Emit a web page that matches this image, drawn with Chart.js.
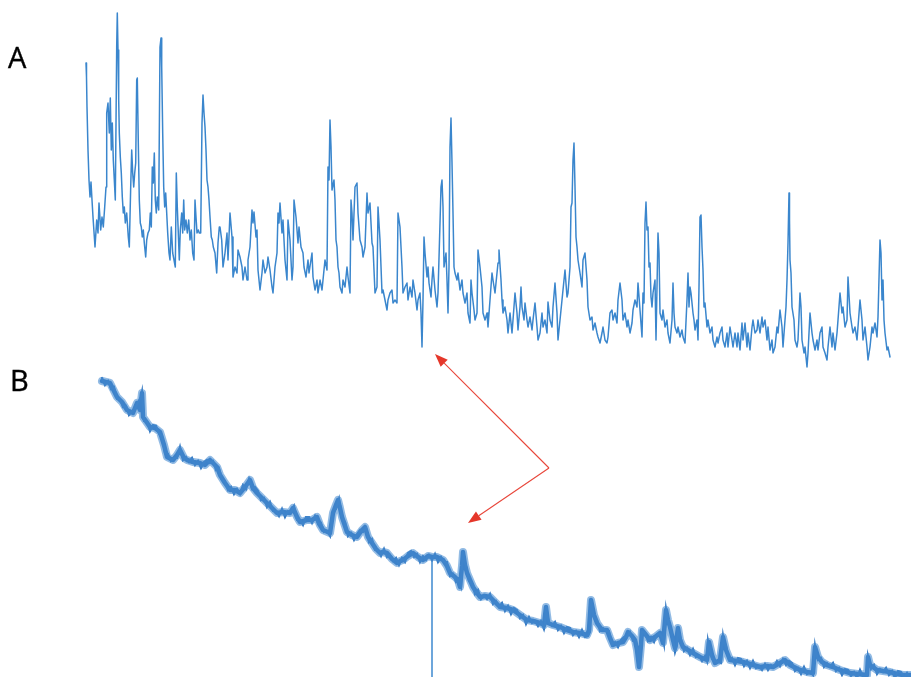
<!DOCTYPE html>
<html>
<head>
<meta charset="utf-8">
<script src="https://cdn.jsdelivr.net/npm/chart.js@4"></script>
<style>
  html, body { margin: 0; padding: 0; background: #fff; }
  #wrap { position: relative; width: 911px; height: 677px; overflow: hidden; }
  #wrap canvas { position: absolute; left: 0; top: 0; }
  .tag { position: absolute; font-family: "Open Sans", "Liberation Sans", Arial, sans-serif; font-size: 29px; line-height: 29px; color: #000; -webkit-text-stroke: 0.4px #000; }
</style>
</head>
<body>
<div id="wrap">
  <canvas id="chart" width="911" height="677"></canvas>
  <div class="tag" style="left:8px; top:42px;">A</div>
  <div class="tag" style="left:10px; top:365px;">B</div>
</div>
<script>
// Trace A: [time, level] samples (level axis runs downward)
const traceA = [
  [86,63],[86.5,77],[87,107],[88,150],[89,180],[90,197],[91,182],[92,200],[93,217],[95,247],[96.7,220],[98,233],[99,203],[100.7,230],[102,217],[103.3,227],[104.7,207],[106,187],[106.7,113],[108,103],[109.3,133],[110.3,98],[111.3,150],[112.3,123],[113.3,160],[114.3,180],[115.3,200],[116.7,47],[117.3,13],[118,50],[118.7,100],[119.3,133],[120.3,157],[121.3,173],[122.3,197],[123.3,213],[124.3,207],[125.3,223],[126.7,213],[128.3,237],[129.3,247],[130.7,187],[131.7,150],[132.7,173],[133.7,187],[134.7,173],[135.7,163],[136.7,80],[137.3,78],[138.3,143],[139.3,200],[140.3,223],[141.3,227],[142.3,237],[143.3,230],[144.3,243],[145.7,257],[146.7,240],[148,233],[149.3,230],[150.3,213],[151.3,227],[152.3,167],[153.3,183],[154.3,153],[155.3,200],[156.3,213],[157.3,197],[158.7,210],[160,47],[161,38],[161.7,67],[162.7,133],[163.7,187],[164.7,207],[165.7,193],[166.7,213],[167.7,233],[169,253],[170,260],[171.3,227],[172.7,253],[174,260],[175.3,267],[176.3,173],[177.3,207],[178.3,233],[179.3,260],[180.3,230],[181.7,213],[182.7,233],[183.7,200],[184.7,230],[186,220],[187.3,233],[188.7,220],[190,240],[191.3,230],[192.7,253],[194,260],[195,200],[196,217],[197,233],[198.3,230],[199.3,233],[200.7,233],[202,123],[203,95],[204,113],[205,127],[206,150],[207,180],[208,187],[209,200],[210,217],[211.3,237],[212.3,240],[213.3,247],[215,253],[216.7,273],[218,243],[219.3,227],
  [220,227],[221.7,240],[223,267],[225,253],[227,233],[228,260],[230,213],[232,237],[233,277],[235,267],[237,273],[238,250],[240,257],[242,267],[243,280],[245,267],[247,280],[248,260],[250,247],[252,210],[253,223],[254,212],[256,237],[257,230],[258,270],[260,290],[262,273],[263,260],[265,273],[267,267],[268,257],[270,270],[272,287],[273,293],[275,267],[277,253],[278,213],[279,223],[280,203],[282,233],[283,220],[285,260],[287,280],[288,220],[290,240],[292,280],[293,267],[294,200],[296,217],[298,243],[299,227],[301,247],[303,253],[304,267],[306,277],[308,260],[309,273],[312,253],[313,277],[315,290],[317,280],[318,293],[320,280],[322,290],[323,280],[325,260],[327,270],[328,167],[329,180],[330,120],[331,147],[332,190],[334,180],[335,200],[336,240],[337,247],[338,267],[339,273],[340,287],[342,293],[343,280],[345,287],[347,267],[348,277],[350,293],[351,200],
  [352,213],[353,240],[355,187],[357,183],[358,213],[360,240],[362,247],[363,257],[365,247],[367,193],[368,213],[370,203],[372,243],[373,247],[375,293],[377,287],[378,207],[380,240],[382,293],[383,290],[385,300],[387,310],[388,300],[390,293],[392,290],[393,303],[395,300],[397,303],[398,213],[400,227],[402,267],[403,293],[405,287],[407,283],[408,300],[410,287],[412,297],[413,280],[415,293],[417,310],[418,300],[420,293],[421,313],[422,347],[423,300],[424,237],[425,253],[427,277],[428,267],[429,283],[431,297],[432,280],[433,267],[435,290],[437,307],[438,293],[440,223],[441,187],[442,180],[443,207],[444,267],[446,253],[447,280],[448,313],[449,267],[450,147],[451,118],[452,163],[453,213],[454,267],[455,273],[457,280],[458,273],[460,290],[462,280],[463,293],[465,303],[467,293],[468,313],[470,323],[471,280],[472,293],[474,310],[475,320],[477,313],[478,250],[480,267],[482,287],[483,313],[485,320],[487,313],
  [488,327],[490,300],[492,273],[493,280],[495,293],[497,273],[498,263],[499,250],[501,280],[502,300],[503,313],[505,307],[507,320],[508,333],[510,313],[512,333],[513,320],[515,293],[517,313],[518,330],[520,307],[521,287],[522,307],[524,320],[525,303],[527,320],[528,327],[530,317],[532,330],[533,320],[535,303],[537,327],[538,340],[540,333],[542,313],[543,327],[545,320],[547,333],[548,302],[550,320],[552,327],[553,307],[555,283],[557,313],[558,340],[560,320],[562,300],[563,290],[565,270],[567,297],[568,293],[570,267],[571,207],[572,203],[573,160],[574,143],[575,187],[576,237],[577,247],[578,260],[580,273],[582,287],[583,260],[585,253],[587,280],[588,307],[590,320],[592,317],[593,330],[595,323],[597,333],[598,337],[600,343],[602,333],[603,327],[605,340],[607,343],[608,337],[610,313],[612,310],[613,320],[615,313],[617,323],[618,300],[620,283],
  [622,300],[623,320],[625,313],[627,327],[628,320],[630,333],[632,323],[633,310],[635,300],[637,307],[638,283],[640,310],[642,337],[643,293],[644,303],[645,223],[646,202],[647,230],[648,227],[649,267],[650,263],[651,297],[652,307],[653,293],[655,280],[656,340],[657,287],[658,233],[659,253],[660,313],[662,320],[663,310],[665,327],[667,320],[668,333],[670,343],[672,320],[673,283],[674,313],[675,327],[677,333],[678,327],[680,337],[682,330],[683,337],[685,343],[687,300],[688,273],[689,307],[690,287],[691,293],[693,313],[694,320],[695,330],[697,320],[698,340],[699,287],[700,217],[701,215],[702,247],[703,270],[704,307],[705,303],[707,327],[708,320],[710,333],[712,327],[713,340],[715,347],[717,337],[718,343],[720,333],[722,327],[723,340],[725,347],[727,333],[728,347],[730,327],[732,340],[733,347],[735,333],[737,347],[738,333],[740,350],[742,323],[743,340],[745,323],[747,347],[748,333],[750,350],[752,327],[753,320],
  [755,333],[757,330],[758,320],[760,333],[762,317],[763,327],[765,320],[767,340],[768,327],[770,350],[772,340],[773,353],[775,347],[777,327],[778,333],[780,310],[782,327],[783,347],[785,320],[786,307],[787,280],[788,243],[789,193],[789.5,220],[790,260],[791,273],[792,307],[794,320],[795,340],[797,347],[798,340],[800,293],[801,307],[802,340],[804,353],[805,347],[807,367],[808,353],[810,313],[812,333],[813,340],[815,350],[817,340],[818,350],[820,333],[822,327],[823,347],[825,353],[827,360],[828,347],[830,327],[832,347],[833,333],[835,350],[837,333],[838,320],[840,293],[842,313],[843,307],[845,327],[847,320],[848,277],[850,313],[852,327],[853,333],[855,327],[857,340],[858,327],[860,300],[862,320],[863,340],[865,327],[867,347],[868,360],[870,347],[872,327],[873,333],[875,323],[877,337],[878,317],[880,240],[881,253],[882,300],[883,280],[884,320],[885,333],[887,350],[888,347],[890,357]
];

// Trace B, slow decay: smoothed course
const traceB = [
  [102,381],[110,383],[117,397],[122,402],[127,410],[133,413],[137,403],[140,410],[142,393],[143,417],[150,427],[155,428],[160,432],[164,445],[167,457],[173,460],[177,455],[180,450],[184,458],[187,460],[193,462],[200,463],[205,465],[210,460],[214,464],[217,467],[220,475],[225,483],[230,490],[235,490],[240,493],[245,487],[250,480],[253,488],[257,493],[262,498],[267,503],[272,508],[277,513],[283,512],[290,513],[293,508],[297,517],[300,522],[307,520],[312,520],[317,517],[320,525],[323,530],[330,533],[333,513],[336,505],[338,500],[340,508],[342,517],[347,532],[352,535],[357,537],[362,530],[365,527],[368,537],[372,543],[376,549],[380,553],[383,552],[387,553],[392,559],[397,563],[400,561],[403,560],[408,556],[413,553],[418,557],[423,560],[428,556],[432,557],[437,557],[443,560],[447,566],[450,573],[455,577],[458,580],[460,587],[462,566],[463,552],[465,565],[467,573],[470,580],[473,587],[477,593],[480,597],[485,596],[490,597],[495,602],[500,607],[507,608],[513,610],[520,615],[527,620],[533,621],[540,623],[544,625],[546,607],[548,623],[553,625],[560,627],[567,630],[573,632],[580,633],[587,635],[589,630],[591,600],[594,615],[597,623],[602,630],[607,630],[610,638],[613,645],[618,643],[623,642],[626,637],[628,632],[632,636],[635,640],[637,650],[639,667],[641,645],[642,630],[646,635],[650,640],[655,637],[660,633],[663,643],[666,610],[668,620],[670,627],[673,640],[675,648],[678,628],[680,640],[683,647],[688,650],[693,653],[700,657],[707,660],[709,642],[712,655],[715,663],[720,660],[723,637],[726,650],[730,660],[737,661],[743,662],[750,664],[760,667],[767,666],[773,667],[780,663],[785,660],[790,665],[800,670],[807,672],[813,673],[815,647],[818,657],[822,662],[827,665],[833,667],[840,670],[850,673],[858,674],[867,675],[868,657],[870,665],[877,670],[883,671],[890,672],[897,674],[903,675],[911,675]
];

// Trace B, raw samples with their scatter
const traceBRaw = [
  [102,378],[105,385],[108,381],[111,389],[114,387],[117,399],[120,399],[123,407],[126,406],[129,415],[132,411],[135,409],[138,402],[141,397],[142,392],[144,421],[147,421],[150,431],[153,425],[156,426],[159,434],[162,436],[165,453],[168,454],[171,461],[174,458],[177,458],[180,447],[183,460],[186,457],[189,462],[192,458],[195,465],[198,461],[201,468],[204,462],
  [207,460],[210,463],[213,461],[216,470],[219,468],[222,480],[225,482],[228,490],[231,487],[234,494],[237,489],[240,494],[243,485],[246,489],[249,479],[252,489],[255,487],[258,491],[261,500],[264,498],[267,507],[270,502],[273,511],[276,511],[279,516],[282,509],[285,517],[288,511],[291,512],[294,506],[297,520],[300,520],[303,525],[306,517],
  [309,517],[312,523],[315,516],[318,524],[321,523],[324,532],[327,531],[330,536],[333,510],[336,509],[339,499],[342,518],[345,522],[348,536],[351,533],[354,540],[357,534],[360,530],[363,532],[366,528],[369,542],[372,539],[375,550],[378,550],[381,556],[384,549],[387,557],[390,555],[393,561],[396,558],[399,565],[402,558],[405,562],[408,553],
  [411,551],[414,557],[417,554],[420,562],[423,556],[426,560],[429,555],[432,560],[435,554],[438,562],[441,557],[444,562],[447,562],[450,576],[453,574],[456,582],[459,580],[461,586],[462,566],[463,551],[464,560],[466,566],[469,581],[472,583],[475,594],[478,590],[481,599],[484,595],[487,599],[490,594],[493,604],[496,601],[499,607],[502,603],[505,611],[508,606],[511,614],[514,608],
  [517,610],[520,618],[523,615],[526,624],[529,617],[532,623],[535,621],[538,626],[541,621],[544,629],[545,625],[546,606],[547,615],[549,622],[552,626],[555,622],[558,630],[561,626],[564,633],[567,627],[570,628],[573,635],[576,631],[579,637],[582,630],[585,637],[588,636],[590,632],[591,599],[592,606],[594,618],[597,620],[600,631],[603,628],[606,631],[609,631],[612,645],[615,642],[618,647],[621,640],
  [624,637],[627,637],[630,632],[633,641],[636,641],[638,655],[639,668],[640,650],[642,632],[645,633],[648,641],[651,637],[654,642],[657,634],[660,634],[663,639],[664,644],[665,625],[666,609],[667,615],[669,626],[672,634],[675,652],[677,645],[678,627],[679,634],[681,639],[684,651],[687,648],[690,655],[693,649],[696,657],[699,656],[702,661],[705,656],[707,661],[708,641],[709,646],[712,659],[715,661],[718,662],[721,663],[722,648],[723,636],[724,642],[726,646],[729,660],[732,658],[735,665],[738,658],
  [741,659],[744,666],[747,661],[750,668],[753,661],[756,668],[759,666],[762,670],[765,664],[768,670],[771,665],[774,667],[777,661],[780,666],[783,659],[786,665],[789,661],[792,663],[795,671],[798,668],[801,674],[804,667],[807,674],[810,672],[813,675],[814,660],[815,646],[816,652],[818,660],[821,658],[824,667],[827,663],[830,667],[833,663],[836,671],[839,668],[842,675],[845,669],
  [848,670],[851,676],[854,672],[857,678],[860,670],[863,677],[866,674],[867,676],[868,656],[869,660],[871,669],[874,665],[877,674],[880,669],[883,672],[886,668],[889,675],[892,671],[895,678],[898,671],[901,672],[904,678],[907,673],[910,679],[911,676]
];

// Single-sample dropout in trace B
const dropoutB = [[432,557],[432,677]];

// Callout: one origin, two arrow tips
const calloutOrigin = [549, 468];
const calloutTips = [[435, 354], [468, 523]];

const toPoints = arr => arr.map(([x, y]) => ({ x, y }));

const calloutPlugin = {
  id: 'callout',
  afterDatasetsDraw(chart) {
    const { ctx, scales: { x, y } } = chart;
    const ox = x.getPixelForValue(calloutOrigin[0]);
    const oy = y.getPixelForValue(calloutOrigin[1]);
    calloutTips.forEach(([tx, ty]) => {
      const px = x.getPixelForValue(tx), py = y.getPixelForValue(ty);
      const ang = Math.atan2(py - oy, px - ox);
      const len = 13, half = 5;
      const bx = px - len * Math.cos(ang), by = py - len * Math.sin(ang);
      ctx.save();
      ctx.setLineDash([]);
      ctx.globalAlpha = 1;
      ctx.strokeStyle = '#e8463a';
      ctx.lineWidth = 1.1;
      ctx.beginPath();
      ctx.moveTo(ox, oy);
      ctx.lineTo(bx, by);
      ctx.stroke();
      ctx.fillStyle = '#e5372a';
      ctx.beginPath();
      ctx.moveTo(px, py);
      ctx.lineTo(bx + half * Math.sin(ang), by - half * Math.cos(ang));
      ctx.lineTo(bx - half * Math.sin(ang), by + half * Math.cos(ang));
      ctx.closePath();
      ctx.fill();
      ctx.restore();
    });
  }
};

const lineStyle = { showLine: true, pointRadius: 0, tension: 0, fill: false, borderJoinStyle: 'round', borderCapStyle: 'round' };

new Chart(document.getElementById('chart'), {
  type: 'scatter',
  data: {
    datasets: [
      { ...lineStyle, label: 'A', data: toPoints(traceA), borderColor: 'rgb(58,134,205)', borderWidth: 1.5 },
      { ...lineStyle, label: 'B halo', data: toPoints(traceB), borderColor: 'rgba(74,142,210,0.6)', borderWidth: 8 },
      { ...lineStyle, label: 'B raw', data: toPoints(traceBRaw), borderColor: 'rgb(48,118,193)', borderWidth: 2.2, borderJoinStyle: 'miter' },
      { ...lineStyle, label: 'B', data: toPoints(traceB), borderColor: 'rgb(44,114,190)', borderWidth: 4.5 },
      { ...lineStyle, label: 'B dropout', data: toPoints(dropoutB), borderColor: 'rgb(62,137,207)', borderWidth: 1.5, borderCapStyle: 'butt' }
    ]
  },
  options: {
    responsive: false,
    animation: false,
    events: [],
    layout: { padding: 0 },
    plugins: { legend: { display: false }, tooltip: { enabled: false } },
    scales: {
      x: { type: 'linear', min: 0, max: 911, display: false },
      y: { type: 'linear', min: 0, max: 677, reverse: true, display: false }
    }
  },
  plugins: [calloutPlugin]
});
</script>
</body>
</html>
